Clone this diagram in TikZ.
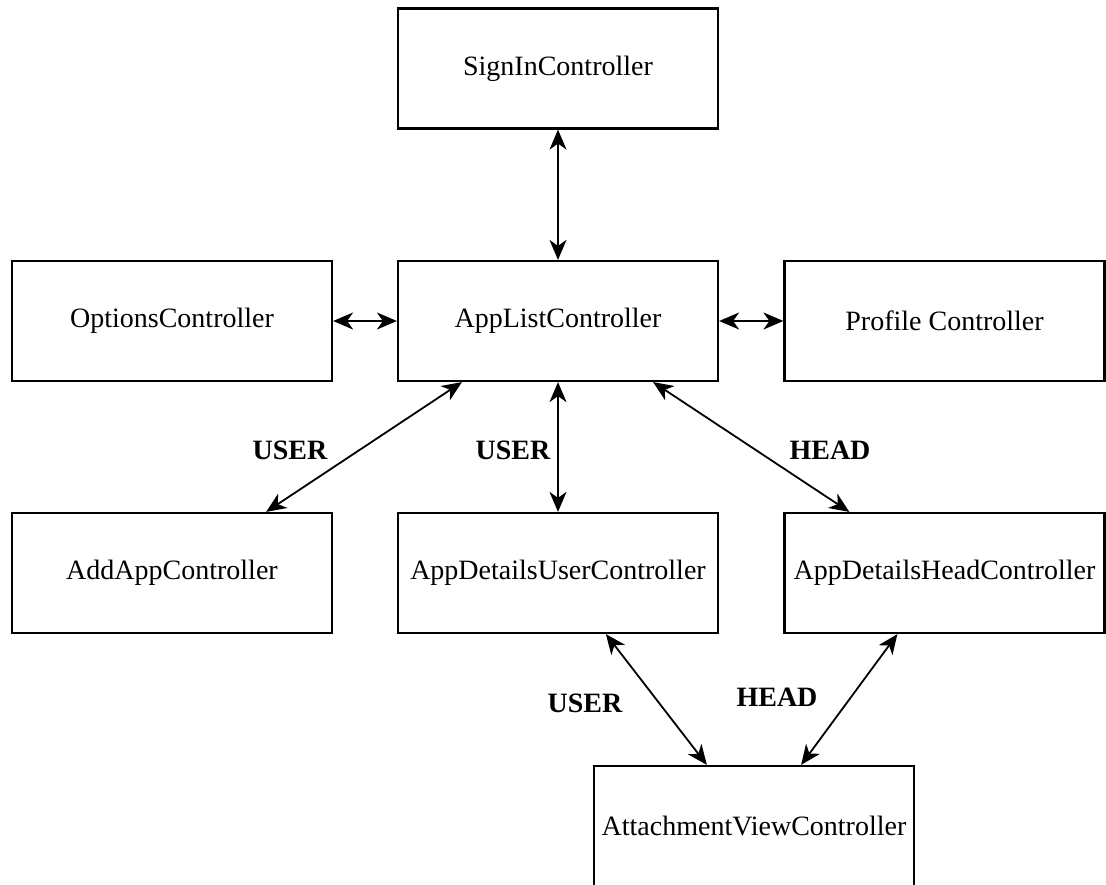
\documentclass[tikz,border=0pt]{standalone}
\usepackage{fontspec}
\setmainfont{Liberation Serif}
\usetikzlibrary{arrows.meta}
\tikzset{
  ctrl/.style={draw, line width=2.2pt, rectangle, minimum width=320pt, minimum height=120pt,
    inner sep=0pt, font=\fontsize{28}{33}\selectfont},
  tip/.style={Stealth[length=20pt,width=17pt,inset=6pt]},
  link/.style={line width=1.8pt, {Stealth[length=20pt,width=17pt,inset=6pt]}-{Stealth[length=20pt,width=17pt,inset=6pt]}},
  role/.style={font=\fontsize{28}{33}\selectfont\bfseries}
}
\begin{document}
\begin{tikzpicture}[x=1pt,y=-1pt]
\useasboundingbox (0,0) rectangle (1106,884);
\clip (0,0) rectangle (1106,884);

% controllers
\node[ctrl] (signin)  at (558,68.5) {SignInController};
\node[ctrl] (options) at (172,321) {OptionsController};
\node[ctrl] (applist) at (558,321) {AppListController};
\node[ctrl] (profile) at (944.5,321) {Profile Controller};
\node[ctrl] (addapp)  at (172,573) {AddAppController};
\node[ctrl] (appuser) at (558,573) {AppDetailsUserController};
\node[ctrl] (apphead) at (944.5,573) {AppDetailsHeadController};
\node[ctrl] (attach)  at (754,826) {AttachmentViewController};

% navigation links
\draw[link] (signin.south) -- (applist.north);
\draw[link] (options.east) -- (applist.west);
\draw[link] (applist.east) -- (profile.west);
\draw[link] ([xshift=65pt]applist.south west) -- ([xshift=-67pt]addapp.north east);
\draw[link] (applist.south) -- (appuser.north);
\draw[link] ([xshift=-66pt]applist.south east) -- ([xshift=66pt]apphead.north west);
\draw[link] ([xshift=209pt]appuser.south west) -- ([xshift=114pt]attach.north west);
\draw[link] ([xshift=114pt]apphead.south west) -- ([xshift=-114pt]attach.north east);

% role labels
\node[role] (l1) at (290,450) {USER};
\node[role] (l2) at (513,450) {USER};
\node[role] (l3) at (830,450) {HEAD};
\node[role] (l4) at (585,703) {USER};
\node[role] (l5) at (777,697) {HEAD};
\end{tikzpicture}
\end{document}
